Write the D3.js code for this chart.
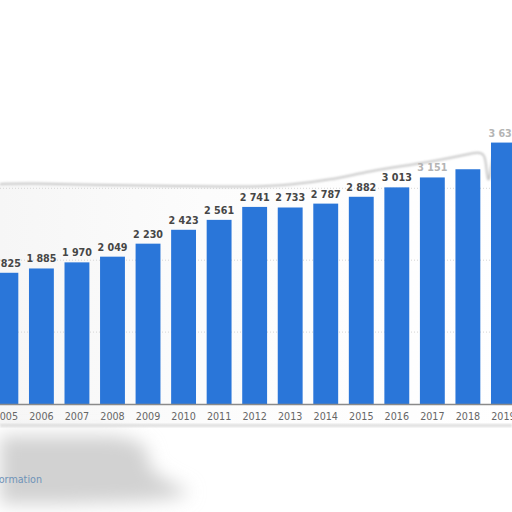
<!DOCTYPE html>
<html>
<head>
<meta charset="utf-8">
<script src="https://cdn.jsdelivr.net/npm/d3@7"></script>
<style>
  body { margin: 0; background: #fff; }
  svg { display: block; }
</style>
</head>
<body>
<div id="chart"></div>
<script>
const width = 512
const height = 512

// DATA
const years = ["2005", "2006", "2007", "2008", "2009", "2010", "2011", "2012",
  "2013", "2014", "2015", "2016", "2017", "2018", "2019"]
const values = [1825, 1885, 1970, 2049, 2230, 2423, 2561, 2741,
  2733, 2787, 2882, 3013, 3151, 3265, 3636]
const gridTicks = [1000, 2000, 3000]
// labels that are washed out / hidden in the picture
const fadedYears = ["2017", "2019"]
const hiddenYears = ["2018"]

const svg = d3
  .select("#chart")
  .append("svg")
  .attr("width", width)
  .attr("height", height)
  .attr("viewBox", [0, 0, width, height])

const defs = svg.append("defs")
defs.append("filter").attr("id", "blur")
  .attr("x", "-50%").attr("y", "-50%").attr("width", "200%").attr("height", "200%")
  .append("feGaussianBlur").attr("stdDeviation", 9)
defs.append("filter").attr("id", "softblur")
  .append("feGaussianBlur").attr("stdDeviation", 1)

const xScale = d3
  .scaleBand()
  .domain(years)
  .range([-11.9, 521.2])
  .paddingInner(0.3)
  .paddingOuter(0.15)

const yScale = d3
  .scaleLinear()
  .domain([0, 4000])
  .range([404, 116.4])

const fmtNum = (v) => d3.format(",d")(v).replace(",", " ")

// PANEL (faint grey wash at the left)
const grad = defs.append("linearGradient").attr("id", "wash")
grad.append("stop").attr("offset", "0").attr("stop-color", "#f6f6f6")
grad.append("stop").attr("offset", "0.4").attr("stop-color", "#fcfcfc")
grad.append("stop").attr("offset", "1").attr("stop-color", "#ffffff")
svg.append("rect")
  .attr("x", 0).attr("y", 180)
  .attr("width", width).attr("height", 245)
  .attr("fill", "url(#wash)")

// GRID
svg.append("g")
  .selectAll("line")
  .data(gridTicks)
  .join("line")
  .attr("x1", 0)
  .attr("x2", width)
  .attr("y1", (d) => yScale(d))
  .attr("y2", (d) => yScale(d))
  .attr("stroke", "#d6d6d6")
  .attr("stroke-dasharray", "1,2")

// white cover over the top part, with its grey rim
const rim = [[0, 184], [30, 183], [90, 185], [180, 186], [250, 187], [290, 185],
  [330, 180], [370, 171], [410, 165], [440, 160], [465, 155], [478, 152],
  [484, 154], [486, 162], [488, 186], [491, 170], [493, 150], [512, 146]]
const rimLine = d3.line().curve(d3.curveBasis)
svg.append("path")
  .attr("d", rimLine(rim) + `L${width},0L0,0Z`)
  .attr("fill", "#fff")
svg.append("path")
  .attr("d", rimLine(rim))
  .attr("fill", "none")
  .attr("stroke", "#c6c6c6")
  .attr("stroke-width", 2)
  .attr("filter", "url(#softblur)")

// BARS
svg.append("g")
  .selectAll("rect")
  .data(values)
  .join("rect")
  .attr("x", (d, i) => xScale(years[i]))
  .attr("y", (d) => yScale(d))
  .attr("width", xScale.bandwidth())
  .attr("height", (d) => yScale(0) - yScale(d))
  .attr("fill", "#2a76d9")

// VALUE LABELS
svg.append("g")
  .selectAll("text")
  .data(values)
  .join("text")
  .attr("x", (d, i) => xScale(years[i]) + xScale.bandwidth() / 2)
  .attr("y", (d) => yScale(d) - 6)
  .attr("text-anchor", "middle")
  .style("font-family", "DejaVu Sans")
  .style("font-size", "9.6px")
  .style("font-weight", "bold")
  .style("fill", (d, i) => (fadedYears.includes(years[i]) ? "#b4b4b4" : "#464646"))
  .style("display", (d, i) => (hiddenYears.includes(years[i]) ? "none" : null))
  .text((d) => fmtNum(d))

// X AXIS
const xAxis = svg
  .append("g")
  .attr("transform", `translate(0, ${yScale(0)})`)
  .call(d3.axisBottom(xScale).tickSize(0).tickPadding(9))
xAxis.select(".domain").attr("stroke", "#8a8a8a").attr("stroke-width", 1.6)
xAxis.selectAll("text")
  .style("font-family", "DejaVu Sans")
  .style("font-size", "9.6px")
  .style("fill", "#666")

// panel bottom shadow
svg.append("rect")
  .attr("x", 0).attr("y", 424)
  .attr("width", width).attr("height", 3)
  .attr("fill", "#dedede")
  .attr("filter", "url(#softblur)")

// smudge at bottom left
svg.append("path")
  .attr("d", "M0,436 L110,436 C140,438 150,448 148,458 C146,470 165,480 190,492 C175,503 120,502 60,504 L0,504 Z")
  .attr("fill", "#d2d2d2")
  .attr("filter", "url(#blur)")

svg.append("text")
  .attr("x", 42)
  .attr("y", 483)
  .attr("text-anchor", "end")
  .style("font-family", "DejaVu Sans")
  .style("font-size", "9.6px")
  .style("fill", "#6f93b8")
  .text("Additional Information")
</script>
</body>
</html>
